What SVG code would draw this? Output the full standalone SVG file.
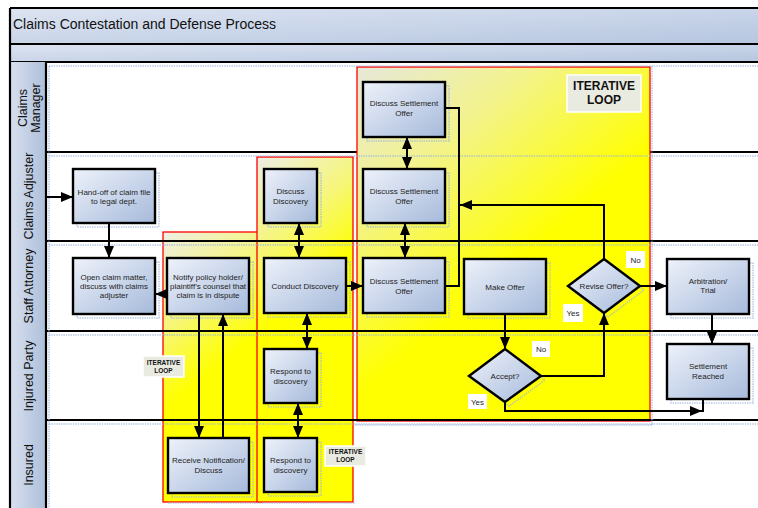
<svg xmlns="http://www.w3.org/2000/svg" width="758" height="508" viewBox="0 0 758 508">
  <style>
    .lane-line { stroke: #000; stroke-width: 2.2; fill: none; }
    .ghost { fill: none; stroke: #9db5dc; stroke-width: 1.6; stroke-dasharray: 1.4 1; opacity: 0.75; }
    .node { fill: url(#nodeFill); stroke: #000; stroke-width: 2.4; }
    .ntext { font-family: "Liberation Sans", Arial, sans-serif; font-size: 8px; fill: #1e1e1e; text-anchor: middle; }
    .lane-text { font-family: "Liberation Sans", Arial, sans-serif; font-size: 12.5px; fill: #111; text-anchor: middle; }
    .loop-box { fill: #e9ebe1; stroke: #fff; stroke-width: 1.5; }
    .loop-text { font-family: "Liberation Sans", Arial, sans-serif; font-weight: bold; fill: #111; text-anchor: middle; }
    .region { stroke: #ff0000; stroke-width: 1.3; }
    .conn { fill: none; stroke: #000; stroke-width: 2; }
    .one { marker-end: url(#arrow); }
    .two { marker-start: url(#arrow); marker-end: url(#arrow); }
    .tag { fill: #fff; }
  </style>
  <defs>
    <linearGradient id="nodeFill" x1="0" y1="0" x2="1" y2="1">
      <stop offset="0" stop-color="#eef2fa"/>
      <stop offset="1" stop-color="#a6badb"/>
    </linearGradient>
    <linearGradient id="titleFill" x1="0" y1="0" x2="1" y2="1">
      <stop offset="0" stop-color="#dde4f1"/>
      <stop offset="1" stop-color="#b5c6e0"/>
    </linearGradient>
    <linearGradient id="laneHead" x1="0" y1="0" x2="1" y2="0">
      <stop offset="0" stop-color="#d8e0ef"/>
      <stop offset="1" stop-color="#adbfd9"/>
    </linearGradient>
    <linearGradient id="loopA" gradientUnits="userSpaceOnUse" x1="163" y1="232" x2="250" y2="340">
      <stop offset="0" stop-color="#eeeee6"/>
      <stop offset="0.55" stop-color="#f6f67a"/>
      <stop offset="1" stop-color="#ffff00"/>
    </linearGradient>
    <linearGradient id="loopB" gradientUnits="userSpaceOnUse" x1="257" y1="157" x2="345" y2="260">
      <stop offset="0" stop-color="#eeeee6"/>
      <stop offset="0.55" stop-color="#f6f67a"/>
      <stop offset="1" stop-color="#ffff00"/>
    </linearGradient>
    <linearGradient id="loopC" gradientUnits="userSpaceOnUse" x1="357" y1="67" x2="520" y2="260">
      <stop offset="0" stop-color="#e6e8da"/>
      <stop offset="0.45" stop-color="#f3f38c"/>
      <stop offset="1" stop-color="#ffff00"/>
    </linearGradient>
    <marker id="arrow" markerUnits="userSpaceOnUse" markerWidth="12" markerHeight="10" viewBox="0 0 12 10" refX="12" refY="5" orient="auto-start-reverse">
      <path d="M0,0 L12,5 L0,10 z" fill="#000"/>
    </marker>
  </defs>

  <rect width="758" height="508" fill="#fff"/>

  <!-- pool header -->
  <g id="pool-header">
    <rect x="10" y="8" width="760" height="36" fill="url(#titleFill)"/>
    <rect x="10" y="44" width="760" height="18" fill="url(#titleFill)"/>
    <line class="lane-line" x1="10" y1="8" x2="758" y2="8"/>
    <line class="lane-line" x1="10" y1="44" x2="758" y2="44"/>
    <line class="lane-line" x1="10" y1="62" x2="758" y2="62" stroke-width="2.6"/>
    <text x="13" y="29" font-family="'Liberation Sans', Arial, sans-serif" font-size="14px" fill="#111">Claims Contestation and Defense Process</text>
  </g>

  <!-- lane headers -->
  <g id="lane-headers">
    <rect x="10" y="62" width="36" height="90" fill="url(#laneHead)"/>
    <rect x="10" y="152" width="36" height="89" fill="url(#laneHead)"/>
    <rect x="10" y="241" width="36" height="90" fill="url(#laneHead)"/>
    <rect x="10" y="331" width="36" height="89" fill="url(#laneHead)"/>
    <rect x="10" y="420" width="36" height="90" fill="url(#laneHead)"/>
    <line class="lane-line" x1="10" y1="8" x2="10" y2="508"/>
    <line class="lane-line" x1="46" y1="62" x2="46" y2="508"/>
    <text class="lane-text" transform="translate(27,108) rotate(-90)">Claims</text>
    <text class="lane-text" transform="translate(40,108) rotate(-90)">Manager</text>
    <text class="lane-text" transform="translate(33,196) rotate(-90)">Claims Adjuster</text>
    <text class="lane-text" transform="translate(33,286) rotate(-90)">Staff Attorney</text>
    <text class="lane-text" transform="translate(33,376) rotate(-90)">Injured Party</text>
    <text class="lane-text" transform="translate(33,465) rotate(-90)">Insured</text>
  </g>

  <!-- boundary between manager and adjuster lanes (covered by the large loop) -->
  <line class="lane-line" x1="46" y1="152" x2="758" y2="152"/>

  <!-- iterative loop areas -->
  <g id="loop-settlement">
    <rect class="region" x="357" y="67" width="293" height="354" fill="url(#loopC)"/>
  </g>
  <g id="loop-notification">
    <rect class="region" x="163" y="232" width="99" height="270" fill="url(#loopA)"/>
  </g>
  <g id="loop-discovery">
    <rect class="region" x="257" y="157" width="96" height="345" fill="url(#loopB)"/>
  </g>

  <!-- remaining lane boundaries -->
  <g id="lane-lines">
    <line class="lane-line" x1="46" y1="241" x2="758" y2="241"/>
    <line class="lane-line" x1="46" y1="331" x2="758" y2="331"/>
    <line class="lane-line" x1="46" y1="420" x2="758" y2="420"/>
  </g>

  <!-- dotted lane guides -->
  <g id="lane-guides">
    <path class="ghost" d="M49,66 H758 M49,156 H758 M49,245 H758 M49,335 H758 M49,424 H758"/>
    <path class="ghost" d="M49,66 V508 M652,66 V425"/>
    <path class="ghost" d="M168,503 H262 M262,503 H355 M355,425 H652"/>
  </g>

  <!-- node shadows -->
  <g id="node-shadows">
    <rect class="ghost" x="77" y="173" width="82" height="54"/>
    <rect class="ghost" x="77" y="262" width="82" height="56"/>
    <rect class="ghost" x="171" y="262" width="82" height="56"/>
    <rect class="ghost" x="172" y="442" width="81" height="55"/>
    <rect class="ghost" x="268" y="173" width="53" height="54"/>
    <rect class="ghost" x="268" y="262" width="82" height="55"/>
    <rect class="ghost" x="268" y="353" width="53" height="54"/>
    <rect class="ghost" x="268" y="442" width="53" height="54"/>
    <rect class="ghost" x="367" y="86" width="82" height="55"/>
    <rect class="ghost" x="367" y="173" width="82" height="54"/>
    <rect class="ghost" x="367" y="262" width="82" height="55"/>
    <rect class="ghost" x="468" y="263" width="82" height="55"/>
    <rect class="ghost" x="671" y="263" width="82" height="55"/>
    <rect class="ghost" x="671" y="348" width="82" height="55"/>
    <polygon class="ghost" points="608,263 644,290 608,317 572,290"/>
    <polygon class="ghost" points="509,353 545,380 509,406 473,380"/>
  </g>

  <!-- loop captions -->
  <g id="caption-large">
    <rect class="loop-box" x="567" y="75" width="74" height="37"/>
    <text class="loop-text" x="604" y="90" font-size="12px">ITERATIVE</text>
    <text class="loop-text" x="604" y="104" font-size="12px">LOOP</text>
  </g>
  <g id="caption-small-1">
    <rect class="loop-box" x="143" y="356" width="41" height="21"/>
    <text class="loop-text" x="163.5" y="365" font-size="6.5px">ITERATIVE</text>
    <text class="loop-text" x="163.5" y="372.5" font-size="6.5px">LOOP</text>
  </g>
  <g id="caption-small-2">
    <rect class="loop-box" x="325" y="446" width="41" height="20"/>
    <text class="loop-text" x="345.5" y="454" font-size="6.5px">ITERATIVE</text>
    <text class="loop-text" x="345.5" y="461.5" font-size="6.5px">LOOP</text>
  </g>

  <!-- process steps -->
  <g id="handoff">
    <rect class="node" x="73" y="169" width="82" height="54"/>
    <text class="ntext" x="114" y="194.5">Hand-off of claim file</text>
    <text class="ntext" x="114" y="204">to legal dept.</text>
  </g>
  <g id="open-claim">
    <rect class="node" x="73" y="258" width="82" height="56"/>
    <text class="ntext" x="114" y="280">Open claim matter,</text>
    <text class="ntext" x="114" y="289">discuss with claims</text>
    <text class="ntext" x="114" y="298">adjuster</text>
  </g>
  <g id="notify">
    <rect class="node" x="167" y="258" width="82" height="56"/>
    <text class="ntext" x="208" y="280">Notify policy holder/</text>
    <text class="ntext" x="208" y="289">plaintiff's counsel that</text>
    <text class="ntext" x="208" y="298">claim is in dispute</text>
  </g>
  <g id="receive">
    <rect class="node" x="168" y="438" width="81" height="55"/>
    <text class="ntext" x="208.5" y="463">Receive Notification/</text>
    <text class="ntext" x="208.5" y="473">Discuss</text>
  </g>
  <g id="discuss-discovery">
    <rect class="node" x="264" y="169" width="53" height="54"/>
    <text class="ntext" x="290.5" y="194">Discuss</text>
    <text class="ntext" x="290.5" y="203.5">Discovery</text>
  </g>
  <g id="conduct-discovery">
    <rect class="node" x="264" y="258" width="82" height="55"/>
    <text class="ntext" x="305" y="289">Conduct Discovery</text>
  </g>
  <g id="respond-injured">
    <rect class="node" x="264" y="349" width="53" height="54"/>
    <text class="ntext" x="290.5" y="373.5">Respond to</text>
    <text class="ntext" x="290.5" y="383.5">discovery</text>
  </g>
  <g id="respond-insured">
    <rect class="node" x="264" y="438" width="53" height="54"/>
    <text class="ntext" x="290.5" y="462.5">Respond to</text>
    <text class="ntext" x="290.5" y="472.5">discovery</text>
  </g>
  <g id="settlement-manager">
    <rect class="node" x="363" y="82" width="82" height="55"/>
    <text class="ntext" x="404" y="106">Discuss Settlement</text>
    <text class="ntext" x="404" y="116">Offer</text>
  </g>
  <g id="settlement-adjuster">
    <rect class="node" x="363" y="169" width="82" height="54"/>
    <text class="ntext" x="404" y="193.5">Discuss Settlement</text>
    <text class="ntext" x="404" y="203.5">Offer</text>
  </g>
  <g id="settlement-attorney">
    <rect class="node" x="363" y="258" width="82" height="55"/>
    <text class="ntext" x="404" y="283.5">Discuss Settlement</text>
    <text class="ntext" x="404" y="293.5">Offer</text>
  </g>
  <g id="make-offer">
    <rect class="node" x="464" y="259" width="82" height="55"/>
    <text class="ntext" x="505" y="289.5">Make Offer</text>
  </g>
  <g id="revise-offer">
    <polygon class="node" points="604,259 640,286 604,313 568,286"/>
    <text class="ntext" x="604" y="289">Revise Offer?</text>
  </g>
  <g id="accept">
    <polygon class="node" points="505,349 541,376 505,402 469,376"/>
    <text class="ntext" x="505" y="379">Accept?</text>
  </g>
  <g id="arbitration">
    <rect class="node" x="667" y="259" width="82" height="55"/>
    <text class="ntext" x="708" y="283.5">Arbitration/</text>
    <text class="ntext" x="708" y="293">Trial</text>
  </g>
  <g id="settlement-reached">
    <rect class="node" x="667" y="344" width="82" height="55"/>
    <text class="ntext" x="708" y="369">Settlement</text>
    <text class="ntext" x="708" y="378.5">Reached</text>
  </g>

  <!-- connectors -->
  <g id="connectors">
    <path class="conn one" d="M46,197 H73"/>
    <path class="conn one" d="M109,223 V258"/>
    <path class="conn one" d="M167,294 H155"/>
    <path class="conn one" d="M199,314 V438"/>
    <path class="conn one" d="M223,438 V314"/>
    <path class="conn two" d="M299,223 V258"/>
    <path class="conn two" d="M307,313 V349"/>
    <path class="conn two" d="M298,403 V438"/>
    <path class="conn one" d="M346,286 H363"/>
    <path class="conn two" d="M407,137 V169"/>
    <path class="conn two" d="M405,223 V258"/>
    <path class="conn" d="M445,286 H459 V108 H445"/>
    <path class="conn one" d="M604,259 V205 H460"/>
    <path class="conn one" d="M640,286 H667"/>
    <path class="conn one" d="M505,314 V349"/>
    <path class="conn one" d="M541,376 H604 V313"/>
    <path class="conn one" d="M505,402 V411 H702"/>
    <path class="conn" d="M703,399 V412"/>
    <path class="conn one" d="M712,314 V344"/>
  </g>

  <!-- branch labels -->
  <g id="branch-labels">
    <rect class="tag" x="626" y="251" width="19" height="17"/>
    <text class="ntext" x="635.5" y="262.5">No</text>
    <rect class="tag" x="563" y="304" width="20" height="18"/>
    <text class="ntext" x="573" y="316">Yes</text>
    <rect class="tag" x="532" y="341" width="18" height="16"/>
    <text class="ntext" x="541" y="351.5">No</text>
    <rect class="tag" x="468" y="394" width="19" height="15"/>
    <text class="ntext" x="477.5" y="404.5">Yes</text>
  </g>
</svg>
